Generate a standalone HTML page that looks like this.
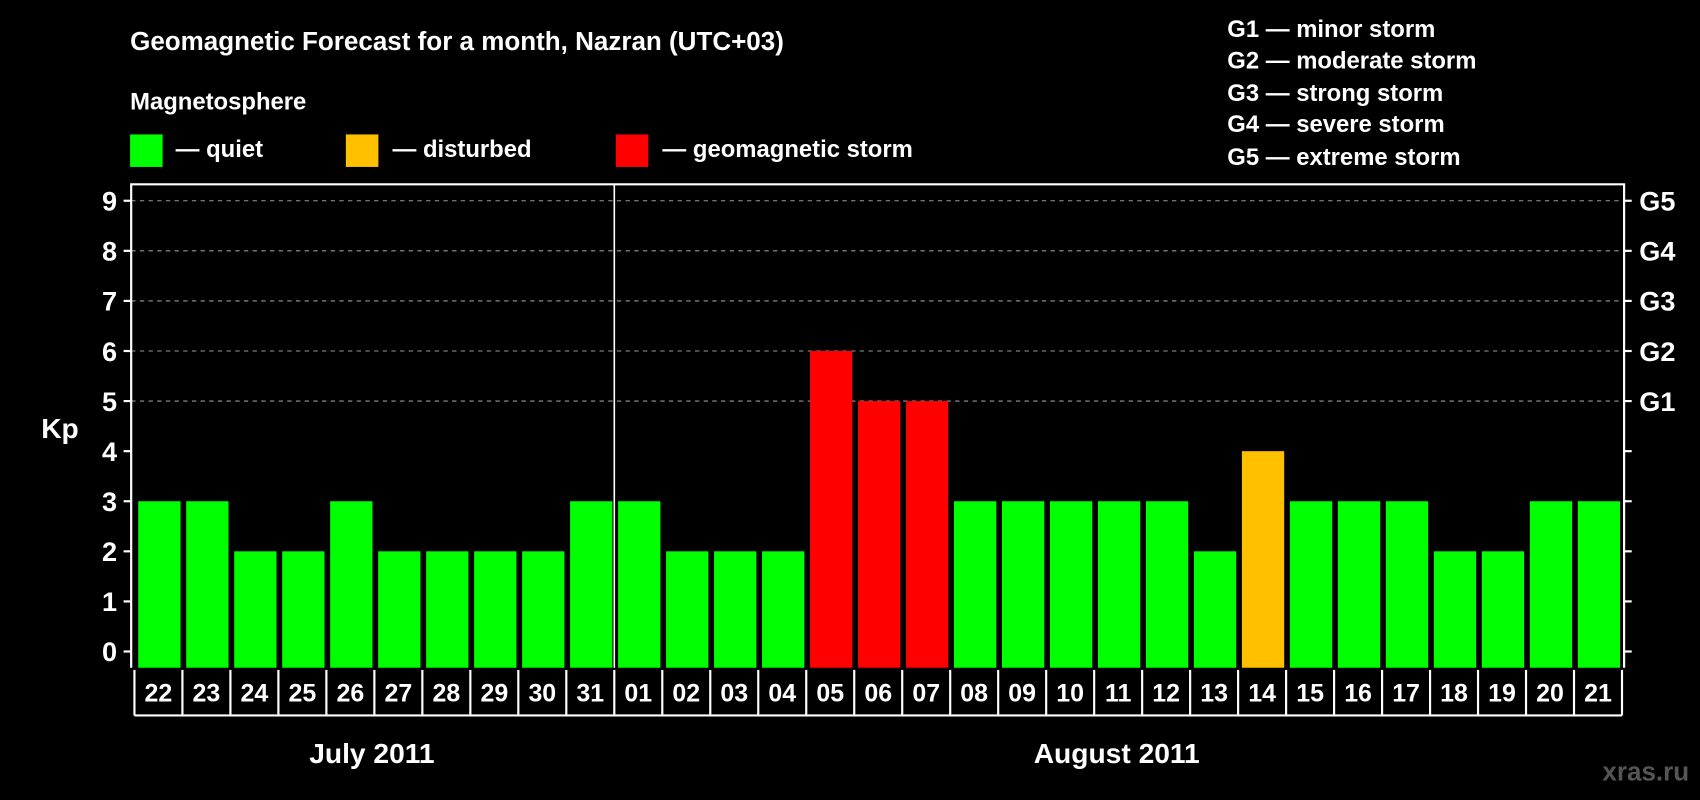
<!DOCTYPE html>
<html><head><meta charset="utf-8"><style>
html,body{margin:0;padding:0;background:#000;}
svg{display:block;}
text{font-family:"Liberation Sans",Arial,sans-serif;font-weight:bold;fill:#fff;}
</style></head><body>
<svg id="chart" width="1700" height="800" viewBox="0 0 1568 738" preserveAspectRatio="none" xmlns="http://www.w3.org/2000/svg">
<rect width="1568" height="738" fill="#000"/>
<text x="120" y="46" font-size="24">Geomagnetic Forecast for a month, Nazran (UTC+03)</text>
<text x="120" y="101" font-size="22">Magnetosphere</text>
<g>
<rect x="120" y="124" width="30" height="30" fill="#00ff00"/>
<text x="162" y="145" font-size="22">— quiet</text>
<rect x="319" y="124" width="30" height="30" fill="#ffc000"/>
<text x="362" y="145" font-size="22">— disturbed</text>
<rect x="568" y="124" width="30" height="30" fill="#ff0000"/>
<text x="611" y="145" font-size="22">— geomagnetic storm</text>
</g>
<g font-size="22">
<text x="1132" y="34" font-size="22">G1 — minor storm</text>
<text x="1132" y="63" font-size="22">G2 — moderate storm</text>
<text x="1132" y="93" font-size="22">G3 — strong storm</text>
<text x="1132" y="122" font-size="22">G4 — severe storm</text>
<text x="1132" y="152" font-size="22">G5 — extreme storm</text>
</g>
<text x="38" y="404" font-size="26">Kp</text>
<text x="343" y="704" font-size="26" text-anchor="middle">July 2011</text>
<text x="1030" y="704" font-size="26" text-anchor="middle">August 2011</text>
<text x="1558" y="720" font-size="24" text-anchor="end" style="fill:#555">xras.ru</text>
<g id="plot"></g>
</svg>
<script>
const days = ["22","23","24","25","26","27","28","29","30","31","01","02","03","04","05","06","07","08","09","10","11","12","13","14","15","16","17","18","19","20","21"];
const kpValues = [3,3,2,2,3,2,2,2,2,3,3,2,2,2,6,5,5,3,3,3,3,3,2,4,3,3,3,2,2,3,3];
const yTicks = [0,1,2,3,4,5,6,7,8,9];
const gLevels = [5,6,7,8,9];
const gLabels = ["G1","G2","G3","G4","G5"];

const NS="http://www.w3.org/2000/svg";
const plot=document.getElementById('plot');
const L=121, R=1498, T=170, B=616, x0=124, slot=44.26;
const y=v=>601-46.2*v;
const x=i=>x0+i*slot;
function mk(t,a){const e=document.createElementNS(NS,t);for(const k in a)e.setAttribute(k,a[k]);plot.appendChild(e);return e;}
function color(v){return v>=5?"#ff0000":(v>=4?"#ffc000":"#00ff00");}

yTicks.forEach(v=>{
  if(v>=5){const g=mk('line',{x1:L,x2:R,y1:y(v),y2:y(v),stroke:'#999','stroke-dasharray':'4,4','stroke-width':1});
  
  }
  const t1=mk('line',{x1:L-7,x2:L,y1:y(v),y2:y(v),stroke:'#fff','stroke-width':2});
  
  
  const t2=mk('line',{x1:R,x2:R+7,y1:y(v),y2:y(v),stroke:'#fff','stroke-width':2});
  
  
  const tx=mk('text',{x:L-13,y:y(v)+9,'font-size':25,'text-anchor':'end'});
  tx.textContent=v;
  
  
});
gLevels.forEach((v,i)=>{
  const tx=mk('text',{x:R+14,y:y(v)+9,'font-size':25});
  tx.textContent=gLabels[i];
  
  
});
kpValues.forEach((v,i)=>{
  const r=mk('rect',{x:x(i)+3.5,y:y(v),width:39,height:B-y(v),fill:color(v)});
  
  
  const c=mk('line',{x1:x(i),x2:x(i),y1:B+2,y2:660,stroke:'#fff','stroke-width':2});
  
  
  const t=mk('text',{x:x(i)+slot/2,y:647,'font-size':23,'text-anchor':'middle'});
  t.textContent=days[i];
  
  
});
const endL=mk('line',{x1:x(days.length),x2:x(days.length),y1:B+2,y2:660,stroke:'#fff','stroke-width':2});


const bl=mk('line',{x1:x0,x2:x(days.length),y1:660,y2:660,stroke:'#fff','stroke-width':2});


const frame=mk('path',{d:`M${L} ${B}V${T}H${R}V${B}`,fill:'none',stroke:'#fff','stroke-width':2});


const sep=mk('line',{x1:x(10),x2:x(10),y1:T,y2:B,stroke:'#fff','stroke-width':1.5});


</script>
</body></html>
